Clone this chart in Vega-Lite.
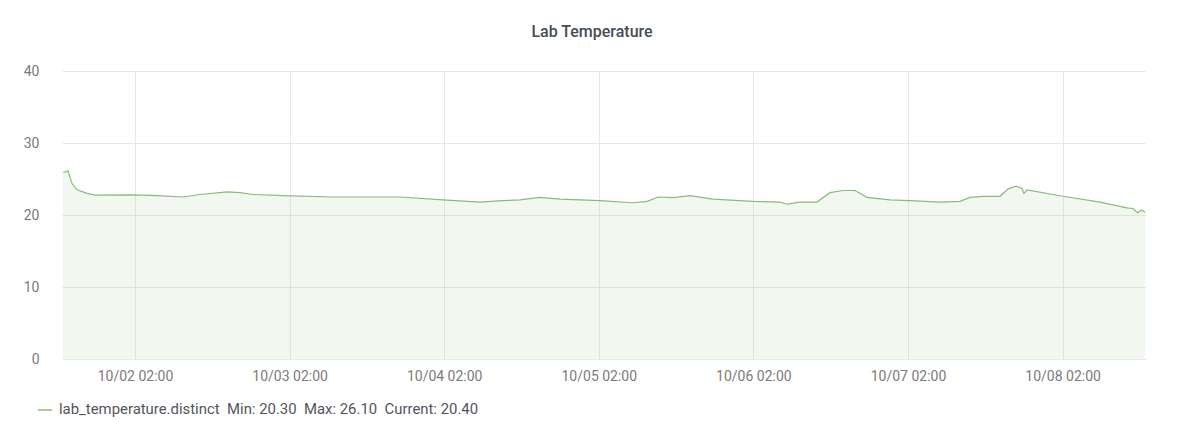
{
  "$schema": "https://vega.github.io/schema/vega-lite/v6.json",
  "autosize": {"type": "none"},
  "width": 1084,
  "height": 288,
  "padding": {"left": 62, "top": 71, "right": 57, "bottom": 70},
  "background": "white",
  "title": {
    "text": "Lab Temperature",
    "font": "Roboto",
    "fontSize": 16,
    "fontWeight": 500,
    "color": "#464c54",
    "anchor": "middle",
    "dx": -12,
    "offset": 24
  },
  "config": {
    "view": {"stroke": null},
    "font": "Roboto",
    "axis": {
      "labelFont": "Roboto",
      "labelFontSize": 14,
      "labelColor": "#7b7b7b",
      "gridColor": "#e8e8e8",
      "gridWidth": 1,
      "domain": false,
      "ticks": false,
      "title": null
    }
  },
  "data": {
    "values": [
      {"series": "lab_temperature.distinct", "time": "2023-10-01T14:50:00", "temp": 25.9},
      {"series": "lab_temperature.distinct", "time": "2023-10-01T15:36:00", "temp": 26.1},
      {"series": "lab_temperature.distinct", "time": "2023-10-01T16:13:00", "temp": 24.4},
      {"series": "lab_temperature.distinct", "time": "2023-10-01T17:00:00", "temp": 23.5},
      {"series": "lab_temperature.distinct", "time": "2023-10-01T18:33:00", "temp": 23.0},
      {"series": "lab_temperature.distinct", "time": "2023-10-01T19:47:00", "temp": 22.75},
      {"series": "lab_temperature.distinct", "time": "2023-10-02T01:41:00", "temp": 22.8},
      {"series": "lab_temperature.distinct", "time": "2023-10-02T05:30:00", "temp": 22.7},
      {"series": "lab_temperature.distinct", "time": "2023-10-02T09:27:00", "temp": 22.5},
      {"series": "lab_temperature.distinct", "time": "2023-10-02T12:05:00", "temp": 22.85},
      {"series": "lab_temperature.distinct", "time": "2023-10-02T16:17:00", "temp": 23.2},
      {"series": "lab_temperature.distinct", "time": "2023-10-02T18:18:00", "temp": 23.1},
      {"series": "lab_temperature.distinct", "time": "2023-10-02T20:19:00", "temp": 22.85},
      {"series": "lab_temperature.distinct", "time": "2023-10-03T00:59:00", "temp": 22.7},
      {"series": "lab_temperature.distinct", "time": "2023-10-03T08:44:00", "temp": 22.5},
      {"series": "lab_temperature.distinct", "time": "2023-10-03T19:08:00", "temp": 22.5},
      {"series": "lab_temperature.distinct", "time": "2023-10-04T01:48:00", "temp": 22.1},
      {"series": "lab_temperature.distinct", "time": "2023-10-04T07:33:00", "temp": 21.8},
      {"series": "lab_temperature.distinct", "time": "2023-10-04T11:00:00", "temp": 22.0},
      {"series": "lab_temperature.distinct", "time": "2023-10-04T13:46:00", "temp": 22.1},
      {"series": "lab_temperature.distinct", "time": "2023-10-04T16:52:00", "temp": 22.45},
      {"series": "lab_temperature.distinct", "time": "2023-10-04T19:59:00", "temp": 22.2},
      {"series": "lab_temperature.distinct", "time": "2023-10-05T02:11:00", "temp": 22.0},
      {"series": "lab_temperature.distinct", "time": "2023-10-05T07:18:00", "temp": 21.7},
      {"series": "lab_temperature.distinct", "time": "2023-10-05T09:29:00", "temp": 21.9},
      {"series": "lab_temperature.distinct", "time": "2023-10-05T11:12:00", "temp": 22.5},
      {"series": "lab_temperature.distinct", "time": "2023-10-05T13:31:00", "temp": 22.4},
      {"series": "lab_temperature.distinct", "time": "2023-10-05T16:09:00", "temp": 22.7},
      {"series": "lab_temperature.distinct", "time": "2023-10-05T19:44:00", "temp": 22.2},
      {"series": "lab_temperature.distinct", "time": "2023-10-06T01:56:00", "temp": 21.9},
      {"series": "lab_temperature.distinct", "time": "2023-10-06T06:08:00", "temp": 21.8},
      {"series": "lab_temperature.distinct", "time": "2023-10-06T07:13:00", "temp": 21.5},
      {"series": "lab_temperature.distinct", "time": "2023-10-06T09:14:00", "temp": 21.8},
      {"series": "lab_temperature.distinct", "time": "2023-10-06T11:52:00", "temp": 21.8},
      {"series": "lab_temperature.distinct", "time": "2023-10-06T13:53:00", "temp": 23.1},
      {"series": "lab_temperature.distinct", "time": "2023-10-06T15:54:00", "temp": 23.4},
      {"series": "lab_temperature.distinct", "time": "2023-10-06T17:46:00", "temp": 23.4},
      {"series": "lab_temperature.distinct", "time": "2023-10-06T19:38:00", "temp": 22.45},
      {"series": "lab_temperature.distinct", "time": "2023-10-06T23:12:00", "temp": 22.1},
      {"series": "lab_temperature.distinct", "time": "2023-10-07T02:18:00", "temp": 22.0},
      {"series": "lab_temperature.distinct", "time": "2023-10-07T06:58:00", "temp": 21.8},
      {"series": "lab_temperature.distinct", "time": "2023-10-07T10:04:00", "temp": 21.9},
      {"series": "lab_temperature.distinct", "time": "2023-10-07T11:37:00", "temp": 22.45},
      {"series": "lab_temperature.distinct", "time": "2023-10-07T13:38:00", "temp": 22.6},
      {"series": "lab_temperature.distinct", "time": "2023-10-07T16:17:00", "temp": 22.6},
      {"series": "lab_temperature.distinct", "time": "2023-10-07T17:31:00", "temp": 23.6},
      {"series": "lab_temperature.distinct", "time": "2023-10-07T18:46:00", "temp": 24.0},
      {"series": "lab_temperature.distinct", "time": "2023-10-07T19:42:00", "temp": 23.7},
      {"series": "lab_temperature.distinct", "time": "2023-10-07T20:00:00", "temp": 23.0},
      {"series": "lab_temperature.distinct", "time": "2023-10-07T20:28:00", "temp": 23.5},
      {"series": "lab_temperature.distinct", "time": "2023-10-08T02:04:00", "temp": 22.6},
      {"series": "lab_temperature.distinct", "time": "2023-10-08T07:49:00", "temp": 21.8},
      {"series": "lab_temperature.distinct", "time": "2023-10-08T12:00:00", "temp": 21.0},
      {"series": "lab_temperature.distinct", "time": "2023-10-08T12:55:00", "temp": 20.9},
      {"series": "lab_temperature.distinct", "time": "2023-10-08T13:40:00", "temp": 20.3},
      {"series": "lab_temperature.distinct", "time": "2023-10-08T14:10:00", "temp": 20.7},
      {"series": "lab_temperature.distinct", "time": "2023-10-08T14:47:00", "temp": 20.4}
    ]
  },
  "encoding": {
    "x": {
      "field": "time",
      "type": "temporal",
      "scale": {
        "domain": [
          {"year": 2023, "month": 10, "date": 1, "hours": 14, "minutes": 40},
          {"year": 2023, "month": 10, "date": 8, "hours": 14, "minutes": 57}
        ]
      },
      "axis": {
        "format": "%m/%d %H:%M",
        "labelPadding": 10,
        "labelFlush": false,
        "values": [
          {"year": 2023, "month": 10, "date": 2, "hours": 2},
          {"year": 2023, "month": 10, "date": 3, "hours": 2},
          {"year": 2023, "month": 10, "date": 4, "hours": 2},
          {"year": 2023, "month": 10, "date": 5, "hours": 2},
          {"year": 2023, "month": 10, "date": 6, "hours": 2},
          {"year": 2023, "month": 10, "date": 7, "hours": 2},
          {"year": 2023, "month": 10, "date": 8, "hours": 2}
        ]
      }
    },
    "y": {
      "field": "temp",
      "type": "quantitative",
      "scale": {"domain": [0, 40], "nice": false},
      "axis": {"values": [0, 10, 20, 30, 40], "labelPadding": 23}
    }
  },
  "layer": [
    {
      "mark": {"type": "area", "color": "#7EB26D", "opacity": 0.1}
    },
    {
      "mark": {"type": "line", "strokeWidth": 1.2},
      "encoding": {
        "color": {
          "field": "series",
          "type": "nominal",
          "scale": {"range": ["#86bd76"]},
          "legend": {
            "orient": "none",
            "legendX": -25,
            "legendY": 331,
            "title": null,
            "symbolType": "stroke",
            "symbolSize": 200,
            "symbolStrokeWidth": 1.5,
            "labelFont": "Roboto",
            "labelFontSize": 14.9,
            "labelColor": "#52545c",
            "labelOffset": 6,
            "labelLimit": 1000,
            "labelExpr": "datum.label + '\u00a0\u00a0Min: 20.30\u00a0\u00a0Max: 26.10\u00a0\u00a0Current: 20.40'"
          }
        }
      }
    }
  ]
}
